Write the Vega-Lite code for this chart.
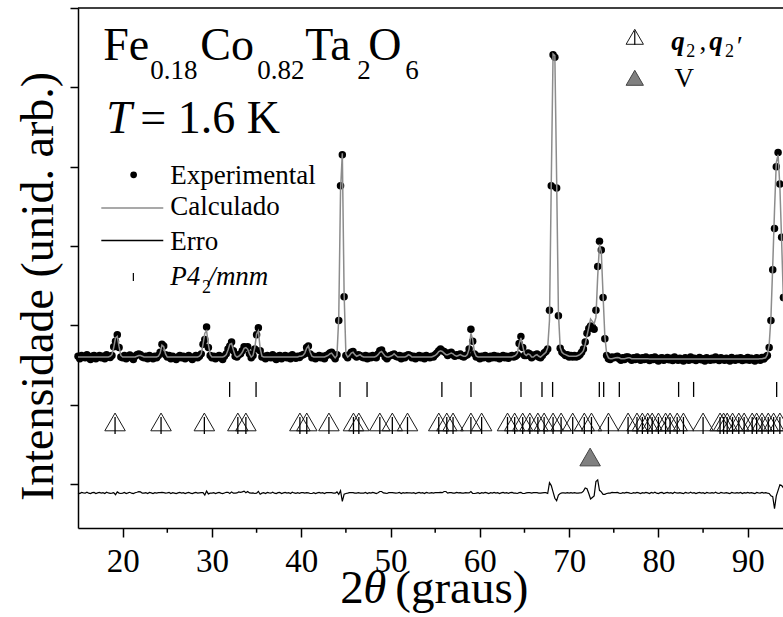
{
"$schema":"https://vega.github.io/schema/vega-lite/v6.json",
"width":705,"height":520,
"autosize":{"type":"none"},
"padding":{"left":78,"top":8,"right":0,"bottom":89},
"background":"white",
"config":{"view":{"stroke":null},"font":"Liberation Serif","axis":{"grid":false}},
"data":{"values":[{}]},
"datasets":{
"pat":[
{"x":15.0,"o":1.61,"c":1.60,"d":-0.110},{"x":15.2,"o":1.58,"c":1.60,"d":-0.120},{"x":15.4,"o":1.62,"c":1.60,"d":-0.107},{"x":15.6,"o":1.60,"c":1.60,"d":-0.113},{"x":15.8,"o":1.59,"c":1.60,"d":-0.116},{"x":16.0,"o":1.63,"c":1.60,"d":-0.104},{"x":16.2,"o":1.59,"c":1.60,"d":-0.116},{"x":16.4,"o":1.57,"c":1.60,"d":-0.122},{"x":16.6,"o":1.61,"c":1.60,"d":-0.110},{"x":16.8,"o":1.62,"c":1.60,"d":-0.107},
{"x":17.0,"o":1.58,"c":1.60,"d":-0.120},{"x":17.2,"o":1.60,"c":1.60,"d":-0.113},{"x":17.4,"o":1.62,"c":1.60,"d":-0.107},{"x":17.6,"o":1.59,"c":1.60,"d":-0.116},{"x":17.8,"o":1.61,"c":1.60,"d":-0.110},{"x":18.0,"o":1.58,"c":1.60,"d":-0.120},{"x":18.2,"o":1.63,"c":1.60,"d":-0.104},{"x":18.4,"o":1.60,"c":1.60,"d":-0.113},{"x":18.6,"o":1.595,"c":1.61,"d":-0.118},{"x":18.8,"o":1.62,"c":1.63,"d":-0.115},
{"x":19.0,"o":1.73,"c":1.72,"d":-0.110},{"x":19.2,"o":1.80,"c":1.84,"d":-0.135},{"x":19.4,"o":1.88,"c":1.86,"d":-0.100},{"x":19.6,"o":1.72,"c":1.73,"d":-0.115},{"x":19.8,"o":1.60,"c":1.62,"d":-0.120},{"x":20.0,"o":1.59,"c":1.60,"d":-0.116},{"x":20.2,"o":1.62,"c":1.60,"d":-0.107},{"x":20.4,"o":1.58,"c":1.60,"d":-0.120},{"x":20.6,"o":1.60,"c":1.60,"d":-0.113},{"x":20.8,"o":1.625,"c":1.60,"d":-0.105},
{"x":21.0,"o":1.59,"c":1.60,"d":-0.116},{"x":21.2,"o":1.57,"c":1.60,"d":-0.122},{"x":21.4,"o":1.61,"c":1.60,"d":-0.110},{"x":21.6,"o":1.63,"c":1.61,"d":-0.104},{"x":21.8,"o":1.64,"c":1.62,"d":-0.097},{"x":22.0,"o":1.63,"c":1.62,"d":-0.100},{"x":22.2,"o":1.60,"c":1.61,"d":-0.116},{"x":22.4,"o":1.59,"c":1.60,"d":-0.116},{"x":22.6,"o":1.61,"c":1.60,"d":-0.110},{"x":22.8,"o":1.58,"c":1.60,"d":-0.120},
{"x":23.0,"o":1.62,"c":1.60,"d":-0.107},{"x":23.2,"o":1.60,"c":1.60,"d":-0.113},{"x":23.4,"o":1.58,"c":1.60,"d":-0.120},{"x":23.6,"o":1.61,"c":1.60,"d":-0.110},{"x":23.8,"o":1.59,"c":1.60,"d":-0.116},{"x":24.0,"o":1.62,"c":1.61,"d":-0.110},{"x":24.2,"o":1.66,"c":1.65,"d":-0.110},{"x":24.4,"o":1.76,"c":1.75,"d":-0.105},{"x":24.6,"o":1.74,"c":1.73,"d":-0.110},{"x":24.8,"o":1.63,"c":1.64,"d":-0.116},
{"x":25.0,"o":1.60,"c":1.60,"d":-0.113},{"x":25.2,"o":1.62,"c":1.60,"d":-0.107},{"x":25.4,"o":1.58,"c":1.60,"d":-0.120},{"x":25.6,"o":1.61,"c":1.60,"d":-0.110},{"x":25.8,"o":1.59,"c":1.60,"d":-0.116},{"x":26.0,"o":1.57,"c":1.60,"d":-0.122},{"x":26.2,"o":1.60,"c":1.60,"d":-0.113},{"x":26.4,"o":1.62,"c":1.60,"d":-0.107},{"x":26.6,"o":1.59,"c":1.60,"d":-0.116},{"x":26.8,"o":1.61,"c":1.60,"d":-0.110},
{"x":27.0,"o":1.58,"c":1.60,"d":-0.120},{"x":27.2,"o":1.60,"c":1.60,"d":-0.113},{"x":27.4,"o":1.62,"c":1.60,"d":-0.107},{"x":27.6,"o":1.59,"c":1.60,"d":-0.116},{"x":27.8,"o":1.57,"c":1.60,"d":-0.122},{"x":28.0,"o":1.60,"c":1.60,"d":-0.113},{"x":28.2,"o":1.62,"c":1.60,"d":-0.107},{"x":28.4,"o":1.59,"c":1.60,"d":-0.116},{"x":28.6,"o":1.61,"c":1.61,"d":-0.113},{"x":28.8,"o":1.64,"c":1.64,"d":-0.110},
{"x":29.0,"o":1.76,"c":1.76,"d":-0.110},{"x":29.2,"o":1.82,"c":1.90,"d":-0.140},{"x":29.4,"o":1.98,"c":1.93,"d":-0.090},{"x":29.6,"o":1.72,"c":1.76,"d":-0.125},{"x":29.8,"o":1.62,"c":1.63,"d":-0.116},{"x":30.0,"o":1.59,"c":1.60,"d":-0.116},{"x":30.2,"o":1.61,"c":1.60,"d":-0.110},{"x":30.4,"o":1.58,"c":1.60,"d":-0.120},{"x":30.6,"o":1.60,"c":1.60,"d":-0.113},{"x":30.8,"o":1.62,"c":1.60,"d":-0.107},
{"x":31.0,"o":1.59,"c":1.60,"d":-0.116},{"x":31.2,"o":1.57,"c":1.60,"d":-0.122},{"x":31.4,"o":1.61,"c":1.61,"d":-0.113},{"x":31.6,"o":1.64,"c":1.63,"d":-0.105},{"x":31.8,"o":1.70,"c":1.69,"d":-0.105},{"x":32.0,"o":1.74,"c":1.76,"d":-0.120},{"x":32.2,"o":1.79,"c":1.77,"d":-0.100},{"x":32.4,"o":1.68,"c":1.69,"d":-0.116},{"x":32.6,"o":1.61,"c":1.62,"d":-0.116},{"x":32.8,"o":1.60,"c":1.60,"d":-0.113},
{"x":33.0,"o":1.63,"c":1.61,"d":-0.100},{"x":33.2,"o":1.64,"c":1.63,"d":-0.105},{"x":33.4,"o":1.68,"c":1.66,"d":-0.100},{"x":33.6,"o":1.73,"c":1.71,"d":-0.090},{"x":33.8,"o":1.72,"c":1.72,"d":-0.110},{"x":34.0,"o":1.73,"c":1.70,"d":-0.095},{"x":34.2,"o":1.64,"c":1.64,"d":-0.113},{"x":34.4,"o":1.59,"c":1.60,"d":-0.116},{"x":34.6,"o":1.62,"c":1.62,"d":-0.113},{"x":34.8,"o":1.70,"c":1.72,"d":-0.120},
{"x":35.0,"o":1.88,"c":1.89,"d":-0.116},{"x":35.2,"o":1.97,"c":1.93,"d":-0.095},{"x":35.4,"o":1.68,"c":1.71,"d":-0.130},{"x":35.6,"o":1.60,"c":1.61,"d":-0.116},{"x":35.8,"o":1.61,"c":1.60,"d":-0.110},{"x":36.0,"o":1.58,"c":1.60,"d":-0.120},{"x":36.2,"o":1.62,"c":1.60,"d":-0.107},{"x":36.4,"o":1.60,"c":1.60,"d":-0.113},{"x":36.6,"o":1.59,"c":1.60,"d":-0.116},{"x":36.8,"o":1.63,"c":1.60,"d":-0.104},
{"x":37.0,"o":1.59,"c":1.60,"d":-0.116},{"x":37.2,"o":1.57,"c":1.60,"d":-0.122},{"x":37.4,"o":1.61,"c":1.60,"d":-0.110},{"x":37.6,"o":1.62,"c":1.60,"d":-0.107},{"x":37.8,"o":1.58,"c":1.60,"d":-0.120},{"x":38.0,"o":1.60,"c":1.60,"d":-0.113},{"x":38.2,"o":1.62,"c":1.60,"d":-0.107},{"x":38.4,"o":1.59,"c":1.60,"d":-0.116},{"x":38.6,"o":1.61,"c":1.60,"d":-0.110},{"x":38.8,"o":1.58,"c":1.60,"d":-0.120},
{"x":39.0,"o":1.63,"c":1.60,"d":-0.104},{"x":39.2,"o":1.60,"c":1.60,"d":-0.113},{"x":39.4,"o":1.585,"c":1.60,"d":-0.118},{"x":39.6,"o":1.61,"c":1.60,"d":-0.110},{"x":39.8,"o":1.595,"c":1.61,"d":-0.118},{"x":40.0,"o":1.62,"c":1.61,"d":-0.110},{"x":40.2,"o":1.63,"c":1.62,"d":-0.110},{"x":40.4,"o":1.64,"c":1.65,"d":-0.116},{"x":40.6,"o":1.72,"c":1.71,"d":-0.110},{"x":40.8,"o":1.74,"c":1.74,"d":-0.113},
{"x":41.0,"o":1.64,"c":1.66,"d":-0.120},{"x":41.2,"o":1.59,"c":1.61,"d":-0.120},{"x":41.4,"o":1.61,"c":1.60,"d":-0.110},{"x":41.6,"o":1.58,"c":1.60,"d":-0.120},{"x":41.8,"o":1.60,"c":1.60,"d":-0.113},{"x":42.0,"o":1.62,"c":1.60,"d":-0.107},{"x":42.2,"o":1.59,"c":1.60,"d":-0.116},{"x":42.4,"o":1.61,"c":1.60,"d":-0.110},{"x":42.6,"o":1.58,"c":1.60,"d":-0.120},{"x":42.8,"o":1.62,"c":1.61,"d":-0.110},
{"x":43.0,"o":1.63,"c":1.62,"d":-0.110},{"x":43.2,"o":1.65,"c":1.64,"d":-0.110},{"x":43.4,"o":1.66,"c":1.65,"d":-0.110},{"x":43.6,"o":1.61,"c":1.62,"d":-0.116},{"x":43.8,"o":1.58,"c":1.59,"d":-0.116},{"x":44.0,"o":1.63,"c":1.62,"d":-0.100},{"x":44.2,"o":2.06,"c":2.10,"d":-0.130},{"x":44.4,"o":3.76,"c":3.70,"d":-0.085},{"x":44.6,"o":4.15,"c":4.17,"d":-0.220},{"x":44.8,"o":2.36,"c":2.40,"d":-0.130},
{"x":45.0,"o":1.62,"c":1.64,"d":-0.120},{"x":45.2,"o":1.59,"c":1.60,"d":-0.116},{"x":45.4,"o":1.63,"c":1.62,"d":-0.110},{"x":45.6,"o":1.66,"c":1.65,"d":-0.110},{"x":45.8,"o":1.67,"c":1.66,"d":-0.110},{"x":46.0,"o":1.62,"c":1.63,"d":-0.116},{"x":46.2,"o":1.60,"c":1.61,"d":-0.116},{"x":46.4,"o":1.63,"c":1.62,"d":-0.110},{"x":46.6,"o":1.62,"c":1.63,"d":-0.116},{"x":46.8,"o":1.60,"c":1.61,"d":-0.116},
{"x":47.0,"o":1.59,"c":1.60,"d":-0.116},{"x":47.2,"o":1.62,"c":1.60,"d":-0.107},{"x":47.4,"o":1.58,"c":1.60,"d":-0.120},{"x":47.6,"o":1.61,"c":1.60,"d":-0.110},{"x":47.8,"o":1.59,"c":1.60,"d":-0.116},{"x":48.0,"o":1.62,"c":1.60,"d":-0.107},{"x":48.2,"o":1.60,"c":1.60,"d":-0.113},{"x":48.4,"o":1.59,"c":1.61,"d":-0.120},{"x":48.6,"o":1.64,"c":1.63,"d":-0.110},{"x":48.8,"o":1.68,"c":1.66,"d":-0.095},
{"x":49.0,"o":1.69,"c":1.67,"d":-0.095},{"x":49.2,"o":1.64,"c":1.64,"d":-0.113},{"x":49.4,"o":1.60,"c":1.61,"d":-0.116},{"x":49.6,"o":1.58,"c":1.60,"d":-0.120},{"x":49.8,"o":1.61,"c":1.60,"d":-0.110},{"x":50.0,"o":1.62,"c":1.61,"d":-0.110},{"x":50.2,"o":1.63,"c":1.62,"d":-0.110},{"x":50.4,"o":1.64,"c":1.64,"d":-0.113},{"x":50.6,"o":1.61,"c":1.62,"d":-0.116},{"x":50.8,"o":1.60,"c":1.60,"d":-0.113},
{"x":51.0,"o":1.62,"c":1.60,"d":-0.107},{"x":51.2,"o":1.58,"c":1.60,"d":-0.120},{"x":51.4,"o":1.61,"c":1.60,"d":-0.110},{"x":51.6,"o":1.59,"c":1.60,"d":-0.116},{"x":51.8,"o":1.62,"c":1.61,"d":-0.110},{"x":52.0,"o":1.63,"c":1.63,"d":-0.113},{"x":52.2,"o":1.62,"c":1.62,"d":-0.113},{"x":52.4,"o":1.59,"c":1.60,"d":-0.116},{"x":52.6,"o":1.61,"c":1.60,"d":-0.110},{"x":52.8,"o":1.58,"c":1.60,"d":-0.120},
{"x":53.0,"o":1.60,"c":1.60,"d":-0.113},{"x":53.2,"o":1.62,"c":1.60,"d":-0.107},{"x":53.4,"o":1.59,"c":1.60,"d":-0.116},{"x":53.6,"o":1.61,"c":1.60,"d":-0.110},{"x":53.8,"o":1.58,"c":1.60,"d":-0.120},{"x":54.0,"o":1.62,"c":1.60,"d":-0.107},{"x":54.2,"o":1.60,"c":1.60,"d":-0.113},{"x":54.4,"o":1.59,"c":1.60,"d":-0.116},{"x":54.6,"o":1.61,"c":1.60,"d":-0.110},{"x":54.8,"o":1.60,"c":1.61,"d":-0.116},
{"x":55.0,"o":1.63,"c":1.62,"d":-0.110},{"x":55.2,"o":1.65,"c":1.64,"d":-0.110},{"x":55.4,"o":1.68,"c":1.67,"d":-0.110},{"x":55.6,"o":1.70,"c":1.68,"d":-0.105},{"x":55.8,"o":1.68,"c":1.67,"d":-0.110},{"x":56.0,"o":1.67,"c":1.65,"d":-0.095},{"x":56.2,"o":1.65,"c":1.63,"d":-0.095},{"x":56.4,"o":1.62,"c":1.63,"d":-0.116},{"x":56.6,"o":1.65,"c":1.64,"d":-0.110},{"x":56.8,"o":1.66,"c":1.65,"d":-0.110},
{"x":57.0,"o":1.63,"c":1.64,"d":-0.116},{"x":57.2,"o":1.61,"c":1.62,"d":-0.116},{"x":57.4,"o":1.63,"c":1.61,"d":-0.107},{"x":57.6,"o":1.62,"c":1.62,"d":-0.113},{"x":57.8,"o":1.64,"c":1.63,"d":-0.110},{"x":58.0,"o":1.61,"c":1.62,"d":-0.116},{"x":58.2,"o":1.60,"c":1.61,"d":-0.116},{"x":58.4,"o":1.62,"c":1.61,"d":-0.110},{"x":58.6,"o":1.63,"c":1.63,"d":-0.113},{"x":58.8,"o":1.70,"c":1.70,"d":-0.113},
{"x":59.0,"o":1.95,"c":1.90,"d":-0.095},{"x":59.2,"o":1.80,"c":1.82,"d":-0.120},{"x":59.4,"o":1.64,"c":1.66,"d":-0.120},{"x":59.6,"o":1.60,"c":1.61,"d":-0.116},{"x":59.8,"o":1.61,"c":1.60,"d":-0.110},{"x":60.0,"o":1.58,"c":1.60,"d":-0.120},{"x":60.2,"o":1.61,"c":1.60,"d":-0.110},{"x":60.4,"o":1.59,"c":1.60,"d":-0.116},{"x":60.6,"o":1.62,"c":1.60,"d":-0.107},{"x":60.8,"o":1.60,"c":1.60,"d":-0.113},
{"x":61.0,"o":1.58,"c":1.60,"d":-0.120},{"x":61.2,"o":1.61,"c":1.60,"d":-0.110},{"x":61.4,"o":1.59,"c":1.60,"d":-0.116},{"x":61.6,"o":1.62,"c":1.60,"d":-0.107},{"x":61.8,"o":1.59,"c":1.60,"d":-0.116},{"x":62.0,"o":1.61,"c":1.60,"d":-0.110},{"x":62.2,"o":1.58,"c":1.60,"d":-0.120},{"x":62.4,"o":1.60,"c":1.60,"d":-0.113},{"x":62.6,"o":1.62,"c":1.60,"d":-0.107},{"x":62.8,"o":1.59,"c":1.60,"d":-0.116},
{"x":63.0,"o":1.61,"c":1.60,"d":-0.110},{"x":63.2,"o":1.585,"c":1.60,"d":-0.118},{"x":63.4,"o":1.61,"c":1.60,"d":-0.110},{"x":63.6,"o":1.62,"c":1.60,"d":-0.107},{"x":63.8,"o":1.60,"c":1.61,"d":-0.116},{"x":64.0,"o":1.61,"c":1.62,"d":-0.116},{"x":64.2,"o":1.63,"c":1.65,"d":-0.120},{"x":64.4,"o":1.77,"c":1.76,"d":-0.110},{"x":64.6,"o":1.86,"c":1.84,"d":-0.107},{"x":64.8,"o":1.72,"c":1.74,"d":-0.120},
{"x":65.0,"o":1.62,"c":1.64,"d":-0.120},{"x":65.2,"o":1.62,"c":1.62,"d":-0.113},{"x":65.4,"o":1.65,"c":1.64,"d":-0.110},{"x":65.6,"o":1.64,"c":1.63,"d":-0.110},{"x":65.8,"o":1.59,"c":1.60,"d":-0.116},{"x":66.0,"o":1.61,"c":1.60,"d":-0.110},{"x":66.2,"o":1.63,"c":1.62,"d":-0.110},{"x":66.4,"o":1.64,"c":1.63,"d":-0.110},{"x":66.6,"o":1.60,"c":1.61,"d":-0.116},{"x":66.8,"o":1.59,"c":1.60,"d":-0.116},
{"x":67.0,"o":1.62,"c":1.62,"d":-0.113},{"x":67.2,"o":1.65,"c":1.64,"d":-0.110},{"x":67.4,"o":1.67,"c":1.66,"d":-0.110},{"x":67.6,"o":1.70,"c":1.72,"d":-0.120},{"x":67.8,"o":2.19,"c":2.06,"d":0.016},{"x":68.0,"o":3.76,"c":3.80,"d":-0.020},{"x":68.2,"o":5.41,"c":5.42,"d":-0.100},{"x":68.4,"o":5.38,"c":5.40,"d":-0.180},{"x":68.6,"o":3.73,"c":3.85,"d":-0.210},{"x":68.8,"o":2.12,"c":2.16,"d":-0.140},
{"x":69.0,"o":1.71,"c":1.72,"d":-0.120},{"x":69.2,"o":1.66,"c":1.66,"d":-0.113},{"x":69.4,"o":1.64,"c":1.64,"d":-0.113},{"x":69.6,"o":1.62,"c":1.63,"d":-0.116},{"x":69.8,"o":1.63,"c":1.62,"d":-0.110},{"x":70.0,"o":1.60,"c":1.61,"d":-0.116},{"x":70.2,"o":1.62,"c":1.61,"d":-0.110},{"x":70.4,"o":1.60,"c":1.61,"d":-0.116},{"x":70.6,"o":1.62,"c":1.61,"d":-0.110},{"x":70.8,"o":1.60,"c":1.61,"d":-0.116},
{"x":71.0,"o":1.61,"c":1.62,"d":-0.116},{"x":71.2,"o":1.63,"c":1.63,"d":-0.113},{"x":71.4,"o":1.66,"c":1.65,"d":-0.110},{"x":71.6,"o":1.70,"c":1.68,"d":-0.090},{"x":71.8,"o":1.79,"c":1.76,"d":-0.050},{"x":72.0,"o":1.90,"c":1.87,"d":-0.060},{"x":72.2,"o":1.96,"c":1.97,"d":-0.120},{"x":72.4,"o":1.99,"c":2.08,"d":-0.190},{"x":72.6,"o":1.98,"c":2.05,"d":-0.170},{"x":72.8,"o":1.95,"c":2.02,"d":-0.150},
{"x":73.0,"o":2.19,"c":2.10,"d":0.030},{"x":73.2,"o":2.74,"c":2.62,"d":0.050},{"x":73.4,"o":3.06,"c":3.02,"d":-0.080},{"x":73.6,"o":2.95,"c":2.93,"d":-0.100},{"x":73.8,"o":2.35,"c":2.38,"d":-0.130},{"x":74.0,"o":1.83,"c":1.86,"d":-0.130},{"x":74.2,"o":1.62,"c":1.64,"d":-0.120},{"x":74.4,"o":1.58,"c":1.59,"d":-0.116},{"x":74.6,"o":1.57,"c":1.58,"d":-0.116},{"x":74.8,"o":1.60,"c":1.58,"d":-0.107},
{"x":75.0,"o":1.59,"c":1.585,"d":-0.110},{"x":75.2,"o":1.60,"c":1.59,"d":-0.110},{"x":75.4,"o":1.61,"c":1.595,"d":-0.107},{"x":75.6,"o":1.58,"c":1.59,"d":-0.116},{"x":75.8,"o":1.56,"c":1.58,"d":-0.120},{"x":76.0,"o":1.59,"c":1.58,"d":-0.110},{"x":76.2,"o":1.57,"c":1.58,"d":-0.116},{"x":76.4,"o":1.60,"c":1.585,"d":-0.107},{"x":76.6,"o":1.60,"c":1.59,"d":-0.110},{"x":76.8,"o":1.58,"c":1.59,"d":-0.116},
{"x":77.0,"o":1.56,"c":1.58,"d":-0.120},{"x":77.2,"o":1.59,"c":1.58,"d":-0.110},{"x":77.4,"o":1.57,"c":1.58,"d":-0.116},{"x":77.6,"o":1.60,"c":1.58,"d":-0.107},{"x":77.8,"o":1.58,"c":1.58,"d":-0.113},{"x":78.0,"o":1.56,"c":1.58,"d":-0.120},{"x":78.2,"o":1.59,"c":1.58,"d":-0.110},{"x":78.4,"o":1.57,"c":1.58,"d":-0.116},{"x":78.6,"o":1.60,"c":1.58,"d":-0.107},{"x":78.8,"o":1.58,"c":1.58,"d":-0.113},
{"x":79.0,"o":1.555,"c":1.575,"d":-0.120},{"x":79.2,"o":1.59,"c":1.575,"d":-0.107},{"x":79.4,"o":1.57,"c":1.575,"d":-0.116},{"x":79.6,"o":1.60,"c":1.575,"d":-0.104},{"x":79.8,"o":1.565,"c":1.575,"d":-0.116},{"x":80.0,"o":1.55,"c":1.575,"d":-0.122},{"x":80.2,"o":1.585,"c":1.575,"d":-0.110},{"x":80.4,"o":1.59,"c":1.575,"d":-0.107},{"x":80.6,"o":1.56,"c":1.575,"d":-0.120},{"x":80.8,"o":1.575,"c":1.575,"d":-0.113},
{"x":81.0,"o":1.595,"c":1.575,"d":-0.107},{"x":81.2,"o":1.565,"c":1.575,"d":-0.116},{"x":81.4,"o":1.585,"c":1.575,"d":-0.110},{"x":81.6,"o":1.555,"c":1.575,"d":-0.120},{"x":81.8,"o":1.60,"c":1.575,"d":-0.104},{"x":82.0,"o":1.575,"c":1.575,"d":-0.113},{"x":82.2,"o":1.56,"c":1.575,"d":-0.116},{"x":82.4,"o":1.585,"c":1.575,"d":-0.110},{"x":82.6,"o":1.565,"c":1.575,"d":-0.116},{"x":82.8,"o":1.55,"c":1.575,"d":-0.122},
{"x":83.0,"o":1.59,"c":1.575,"d":-0.107},{"x":83.2,"o":1.575,"c":1.575,"d":-0.113},{"x":83.4,"o":1.56,"c":1.575,"d":-0.116},{"x":83.6,"o":1.60,"c":1.575,"d":-0.104},{"x":83.8,"o":1.57,"c":1.575,"d":-0.116},{"x":84.0,"o":1.585,"c":1.575,"d":-0.110},{"x":84.2,"o":1.555,"c":1.575,"d":-0.120},{"x":84.4,"o":1.575,"c":1.575,"d":-0.113},{"x":84.6,"o":1.595,"c":1.575,"d":-0.107},{"x":84.8,"o":1.565,"c":1.575,"d":-0.116},
{"x":85.0,"o":1.58,"c":1.575,"d":-0.110},{"x":85.2,"o":1.55,"c":1.575,"d":-0.122},{"x":85.4,"o":1.59,"c":1.575,"d":-0.107},{"x":85.6,"o":1.575,"c":1.575,"d":-0.113},{"x":85.8,"o":1.56,"c":1.575,"d":-0.116},{"x":86.0,"o":1.585,"c":1.575,"d":-0.110},{"x":86.2,"o":1.565,"c":1.575,"d":-0.116},{"x":86.4,"o":1.60,"c":1.575,"d":-0.104},{"x":86.6,"o":1.57,"c":1.575,"d":-0.116},{"x":86.8,"o":1.555,"c":1.575,"d":-0.120},
{"x":87.0,"o":1.59,"c":1.575,"d":-0.107},{"x":87.2,"o":1.575,"c":1.575,"d":-0.113},{"x":87.4,"o":1.56,"c":1.575,"d":-0.116},{"x":87.6,"o":1.585,"c":1.575,"d":-0.110},{"x":87.8,"o":1.565,"c":1.575,"d":-0.116},{"x":88.0,"o":1.55,"c":1.575,"d":-0.122},{"x":88.2,"o":1.595,"c":1.575,"d":-0.107},{"x":88.4,"o":1.575,"c":1.575,"d":-0.113},{"x":88.6,"o":1.56,"c":1.575,"d":-0.116},{"x":88.8,"o":1.585,"c":1.575,"d":-0.110},
{"x":89.0,"o":1.57,"c":1.575,"d":-0.116},{"x":89.2,"o":1.59,"c":1.575,"d":-0.107},{"x":89.4,"o":1.555,"c":1.575,"d":-0.120},{"x":89.6,"o":1.58,"c":1.575,"d":-0.110},{"x":89.8,"o":1.565,"c":1.575,"d":-0.116},{"x":90.0,"o":1.595,"c":1.575,"d":-0.107},{"x":90.2,"o":1.56,"c":1.575,"d":-0.116},{"x":90.4,"o":1.585,"c":1.575,"d":-0.110},{"x":90.6,"o":1.57,"c":1.575,"d":-0.116},{"x":90.8,"o":1.55,"c":1.575,"d":-0.122},
{"x":91.0,"o":1.59,"c":1.575,"d":-0.107},{"x":91.2,"o":1.575,"c":1.575,"d":-0.113},{"x":91.4,"o":1.56,"c":1.58,"d":-0.116},{"x":91.6,"o":1.595,"c":1.58,"d":-0.107},{"x":91.8,"o":1.575,"c":1.585,"d":-0.116},{"x":92.0,"o":1.60,"c":1.59,"d":-0.110},{"x":92.2,"o":1.62,"c":1.63,"d":-0.116},{"x":92.4,"o":1.72,"c":1.75,"d":-0.120},{"x":92.6,"o":2.06,"c":2.10,"d":-0.150},{"x":92.8,"o":2.70,"c":2.75,"d":-0.160},
{"x":93.0,"o":3.22,"c":3.45,"d":-0.310},{"x":93.2,"o":4.00,"c":4.05,"d":-0.150},{"x":93.4,"o":4.18,"c":4.15,"d":-0.080},{"x":93.6,"o":3.78,"c":3.75,"d":-0.010},{"x":93.8,"o":3.11,"c":3.05,"d":-0.020},{"x":94.0,"o":2.35,"c":2.30,"d":-0.050}
],
"bragg":[{"x":31.98},{"x":34.94},{"x":44.34},{"x":47.37},{"x":55.75},{"x":59.01},{"x":64.61},{"x":66.96},{"x":68.15},{"x":73.38},{"x":73.87},{"x":75.62},{"x":82.26},{"x":83.94},{"x":93.24}],
"mag":[{"x":19.15},{"x":24.3},{"x":29.15},{"x":32.9},{"x":33.8},{"x":39.85},{"x":40.62},{"x":43.1},{"x":45.85},{"x":46.45},{"x":48.8},{"x":50.2},{"x":51.9},{"x":55.4},{"x":56.3},{"x":57.0},{"x":59.0},{"x":60.2},{"x":63.1},{"x":63.9},{"x":64.8},{"x":65.6},{"x":66.5},{"x":67.2},{"x":68.2},{"x":69.1},{"x":70.4},{"x":71.7},{"x":72.5},{"x":74.4},{"x":76.6},{"x":77.6},{"x":78.2},{"x":78.8},{"x":79.3},{"x":80.0},{"x":80.8},{"x":81.3},{"x":82.1},{"x":82.8},{"x":85.0},{"x":86.9},{"x":87.3},{"x":87.7},{"x":88.3},{"x":89.0},{"x":89.6},{"x":90.5},{"x":91.0},{"x":91.6},{"x":92.3},{"x":92.9},{"x":93.6}],
"imp":[{"x":72.35}],
"minor":[{"x":25},{"x":35},{"x":45},{"x":55},{"x":65},{"x":75},{"x":85}]
},
"layer":[
{"data":{"name":"pat"},"mark":{"type":"point","filled":true,"color":"black","opacity":1,"size":56},
 "encoding":{
  "x":{"field":"x","type":"quantitative","scale":{"domain":[15,93.95],"nice":false,"zero":false},
       "axis":{"values":[20,30,40,50,60,70,80,90],"format":"d","title":null,"grid":false,"tickSize":9,"tickWidth":1.5,"tickColor":"black","domainWidth":1.5,"domainColor":"black","labelFont":"Liberation Serif","labelFontSize":33,"labelColor":"black","labelPadding":8,"labelFlush":false,"labelOverlap":false}},
  "y":{"field":"o","type":"quantitative","scale":{"domain":[-0.555,6],"nice":false,"zero":false},
       "axis":{"values":[0,1,2,3,4,5,6],"labels":false,"grid":false,"title":"Intensidade (unid. arb.)","titleFont":"Liberation Serif","titleFontSize":46,"titleFontWeight":"normal","titleColor":"black","titlePadding":7,"titleY":278,"tickSize":8,"tickWidth":1.5,"tickColor":"black","domainWidth":1.5,"domainColor":"black"}}}},
{"data":{"name":"pat"},"mark":{"type":"line","color":"#8c8c8c","strokeWidth":1.5},
 "encoding":{"x":{"field":"x","type":"quantitative"},"y":{"field":"c","type":"quantitative"}}},
{"data":{"name":"pat"},"mark":{"type":"line","color":"black","strokeWidth":1.2},
 "encoding":{"x":{"field":"x","type":"quantitative"},"y":{"field":"d","type":"quantitative"}}},
{"data":{"name":"bragg"},"mark":{"type":"rule","color":"black","strokeWidth":1.3},
 "encoding":{"x":{"field":"x","type":"quantitative"},"y":{"datum":1.097},"y2":{"datum":1.286}}},
{"data":{"name":"mag"},"mark":{"type":"point","shape":"triangle-up","filled":false,"stroke":"#1a1a1a","strokeWidth":1,"size":420,"opacity":1},
 "encoding":{"x":{"field":"x","type":"quantitative"},"y":{"datum":0.782}}},
{"data":{"name":"mag"},"mark":{"type":"rule","color":"black","strokeWidth":1.3},
 "encoding":{"x":{"field":"x","type":"quantitative"},"y":{"datum":0.63},"y2":{"datum":0.845}}},
{"data":{"name":"imp"},"mark":{"type":"point","shape":"triangle-up","filled":true,"fill":"#808080","stroke":"#444444","strokeWidth":1,"size":420,"opacity":1},
 "encoding":{"x":{"field":"x","type":"quantitative"},"y":{"datum":0.34}}},
{"data":{"name":"minor"},"mark":{"type":"rule","color":"black","strokeWidth":1.5,"clip":false},
 "encoding":{"x":{"field":"x","type":"quantitative"},"y":{"datum":-0.555},"y2":{"datum":-0.615}}},
{"mark":{"type":"rule","color":"black","strokeWidth":1.5},"encoding":{"y":{"datum":6}}},
{"mark":{"type":"text","text":"Fe","fontSize":46,"align":"left","baseline":"alphabetic"},"encoding":{"x":{"datum":17.83},"y":{"datum":5.347}}},
{"mark":{"type":"text","text":"0.18","fontSize":27,"align":"left","baseline":"alphabetic"},"encoding":{"x":{"datum":23.10},"y":{"datum":5.107}}},
{"mark":{"type":"text","text":"Co","fontSize":46,"align":"left","baseline":"alphabetic"},"encoding":{"x":{"datum":28.70},"y":{"datum":5.347}}},
{"mark":{"type":"text","text":"0.82","fontSize":27,"align":"left","baseline":"alphabetic"},"encoding":{"x":{"datum":35.08},"y":{"datum":5.107}}},
{"mark":{"type":"text","text":"Ta","fontSize":46,"align":"left","baseline":"alphabetic"},"encoding":{"x":{"datum":40.45},"y":{"datum":5.347}}},
{"mark":{"type":"text","text":"2","fontSize":27,"align":"left","baseline":"alphabetic"},"encoding":{"x":{"datum":46.28},"y":{"datum":5.107}}},
{"mark":{"type":"text","text":"O","fontSize":46,"align":"left","baseline":"alphabetic"},"encoding":{"x":{"datum":47.51},"y":{"datum":5.347}}},
{"mark":{"type":"text","text":"6","fontSize":27,"align":"left","baseline":"alphabetic"},"encoding":{"x":{"datum":51.65},"y":{"datum":5.107}}},
{"mark":{"type":"text","text":"T","fontSize":46,"fontStyle":"italic","align":"left","baseline":"alphabetic"},"encoding":{"x":{"datum":18.17},"y":{"datum":4.426}}},
{"mark":{"type":"text","text":"= 1.6 K","fontSize":46,"align":"left","baseline":"alphabetic"},"encoding":{"x":{"datum":21.98},"y":{"datum":4.426}}},
{"mark":{"type":"point","filled":true,"color":"black","opacity":1,"size":45},"encoding":{"x":{"datum":21.23},"y":{"datum":3.897}}},
{"mark":{"type":"text","text":"Experimental","fontSize":27,"align":"left","baseline":"alphabetic"},"encoding":{"x":{"datum":25.34},"y":{"datum":3.783}}},
{"mark":{"type":"rule","color":"#8c8c8c","strokeWidth":1.5},"encoding":{"x":{"datum":17.61},"x2":{"datum":24.55},"y":{"datum":3.48}}},
{"mark":{"type":"text","text":"Calculado","fontSize":27,"align":"left","baseline":"alphabetic"},"encoding":{"x":{"datum":25.34},"y":{"datum":3.392}}},
{"mark":{"type":"rule","color":"black","strokeWidth":1.5},"encoding":{"x":{"datum":17.61},"x2":{"datum":24.55},"y":{"datum":3.068}}},
{"mark":{"type":"text","text":"Erro","fontSize":27,"align":"left","baseline":"alphabetic"},"encoding":{"x":{"datum":25.34},"y":{"datum":2.951}}},
{"mark":{"type":"rule","color":"black","strokeWidth":1.2},"encoding":{"x":{"datum":21.20},"y":{"datum":2.56},"y2":{"datum":2.661}}},
{"mark":{"type":"text","text":"P4","fontSize":27,"fontStyle":"italic","align":"left","baseline":"alphabetic"},"encoding":{"x":{"datum":25.34},"y":{"datum":2.509}}},
{"mark":{"type":"text","text":"2","fontSize":18,"align":"left","baseline":"alphabetic"},"encoding":{"x":{"datum":28.9},"y":{"datum":2.409}}},
{"mark":{"type":"text","text":"/mnm","fontSize":27,"fontStyle":"italic","align":"left","baseline":"alphabetic"},"encoding":{"x":{"datum":29.6},"y":{"datum":2.509}}},
{"mark":{"type":"point","shape":"triangle-up","filled":false,"stroke":"#1a1a1a","strokeWidth":1,"size":300,"opacity":1},"encoding":{"x":{"datum":77.35},"y":{"datum":5.637}}},
{"mark":{"type":"rule","color":"black","strokeWidth":1.2},"encoding":{"x":{"datum":77.35},"y":{"datum":5.536},"y2":{"datum":5.712}}},
{"mark":{"type":"text","text":"q","fontSize":27,"fontStyle":"italic","fontWeight":"bold","align":"left","baseline":"alphabetic"},"encoding":{"x":{"datum":81.44},"y":{"datum":5.473}}},
{"mark":{"type":"text","text":"2","fontSize":18,"align":"left","baseline":"alphabetic"},"encoding":{"x":{"datum":83.12},"y":{"datum":5.385}}},
{"mark":{"type":"text","text":",","fontSize":27,"align":"left","baseline":"alphabetic"},"encoding":{"x":{"datum":84.6},"y":{"datum":5.473}}},
{"mark":{"type":"text","text":"q","fontSize":27,"fontStyle":"italic","fontWeight":"bold","align":"left","baseline":"alphabetic"},"encoding":{"x":{"datum":85.7},"y":{"datum":5.473}}},
{"mark":{"type":"text","text":"2","fontSize":18,"align":"left","baseline":"alphabetic"},"encoding":{"x":{"datum":87.45},"y":{"datum":5.385}}},
{"mark":{"type":"text","text":"′","fontSize":27,"fontStyle":"italic","align":"left","baseline":"alphabetic"},"encoding":{"x":{"datum":88.6},"y":{"datum":5.41}}},
{"mark":{"type":"point","shape":"triangle-up","filled":true,"fill":"#808080","stroke":"#444444","strokeWidth":1,"size":300,"opacity":1},"encoding":{"x":{"datum":77.35},"y":{"datum":5.12}}},
{"mark":{"type":"text","text":"V","fontSize":27,"align":"left","baseline":"alphabetic"},"encoding":{"x":{"datum":81.81},"y":{"datum":5.006}}},
{"mark":{"type":"text","text":"2","fontSize":47,"align":"left","baseline":"alphabetic"},"encoding":{"x":{"datum":44.37},"y":{"datum":-1.50}}},
{"mark":{"type":"text","text":"θ","fontSize":47,"fontStyle":"italic","align":"left","baseline":"alphabetic"},"encoding":{"x":{"datum":46.95},"y":{"datum":-1.50}}},
{"mark":{"type":"text","text":"(graus)","fontSize":47,"align":"left","baseline":"alphabetic"},"encoding":{"x":{"datum":50.53},"y":{"datum":-1.50}}}
]
}
